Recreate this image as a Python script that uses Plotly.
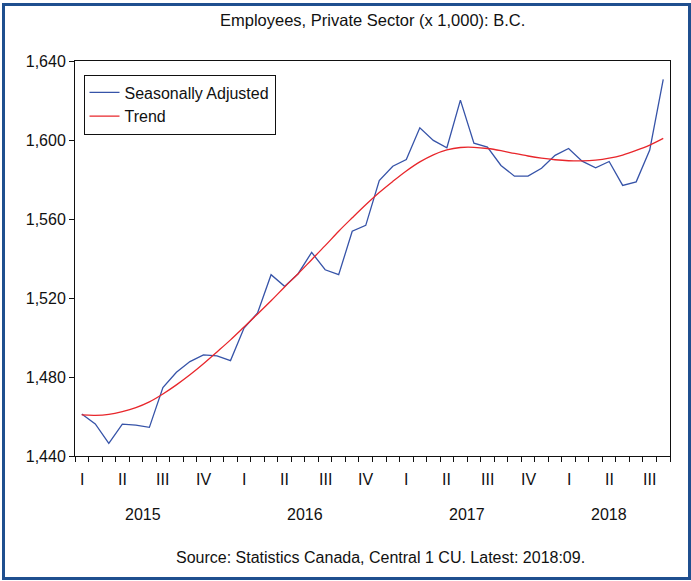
import plotly.graph_objects as go

# Monthly index: 0 = Jan 2015; data from Feb 2015 (1) to Sep 2018 (44)
months = list(range(1, 45))
seasonally_adjusted = [
    1461.3, 1456.2, 1446.4, 1456.1, 1455.6, 1454.5, 1474.7, 1482.4, 1487.8, 1491.2,
    1490.7, 1488.3, 1504.8, 1512.4, 1531.8, 1525.9, 1532.3, 1543.1, 1534.3, 1531.8,
    1553.8, 1556.8, 1579.5, 1586.7, 1590.1, 1606.2, 1599.8, 1596.1, 1620.2, 1598.4,
    1596.4, 1587.1, 1581.7, 1581.7, 1585.7, 1592.2, 1595.7, 1589.3, 1585.9, 1589.1,
    1577.0, 1578.8, 1594.9, 1630.7,
]
trend = [
    1460.8, 1460.6, 1461.1, 1462.5, 1464.5, 1467.4, 1471.4, 1476.0, 1481.1, 1486.7,
    1492.7, 1498.8, 1505.3, 1511.9, 1518.6, 1525.6, 1532.3, 1539.4, 1546.5, 1553.8,
    1560.6, 1567.2, 1573.4, 1579.0, 1584.3, 1588.9, 1592.5, 1595.0, 1596.2, 1596.3,
    1595.7, 1594.6, 1593.2, 1591.9, 1590.8, 1590.0, 1589.5, 1589.4, 1589.8, 1590.8,
    1592.4, 1594.7, 1597.4, 1600.8,
]
y_ticks = [1440, 1480, 1520, 1560, 1600, 1640]
quarter_labels = ["I", "II", "III", "IV"] * 3 + ["I", "II", "III"]
quarter_centers = [1 + 3 * i for i in range(len(quarter_labels))]
year_labels = ["2015", "2016", "2017", "2018"]
year_centers = [5.5, 17.5, 29.5, 40.0]

title_text = "Employees, Private Sector (x 1,000): B.C."
source_text = "Source: Statistics Canada, Central 1 CU. Latest: 2018:09."

W, H = 691, 581
L, R, T, B = 75, 21, 61, 125
pw, ph = W - L - R, H - T - B


def px_x(x):
    return (x - L) / pw


def px_y(y):
    return (H - B - y) / ph


FONT = "Liberation Sans, Arial, sans-serif"

fig = go.Figure()
fig.add_trace(go.Scatter(x=months, y=seasonally_adjusted, mode="lines",
                         name="Seasonally Adjusted",
                         line=dict(color="#3653A8", width=1.3)))
fig.add_trace(go.Scatter(x=months, y=trend, mode="lines", name="Trend",
                         line=dict(color="#E8262B", width=1.3, shape="spline")))

major_ticks = [2.5 + 3 * i for i in range(15)]
minor_ticks = [0.5 + i for i in range(45)]

fig.update_xaxes(range=[0.5, 44.5], showgrid=False, zeroline=False,
                 showline=True, linecolor="#111", linewidth=1, mirror=True,
                 tickmode="array", tickvals=major_ticks, ticktext=[""] * len(major_ticks),
                 ticks="outside", ticklen=9, tickcolor="#111", tickwidth=1,
                 minor=dict(tickmode="array", tickvals=minor_ticks, ticks="outside",
                            ticklen=5, tickcolor="#111", tickwidth=1, showgrid=False))
fig.update_yaxes(range=[1440, 1640], showgrid=False, zeroline=False,
                 showline=True, linecolor="#111", linewidth=1, mirror=True,
                 tickmode="array", tickvals=y_ticks, tickformat=",",
                 ticks="outside", ticklen=5, tickcolor="#111", tickwidth=1,
                 tickfont=dict(family=FONT, size=16, color="#111"))

annotations = []
for lab, c in zip(quarter_labels, quarter_centers):
    annotations.append(dict(x=c, y=px_y(479), xref="x", yref="paper", text=lab,
                            showarrow=False, xanchor="center", yanchor="middle",
                            font=dict(family=FONT, size=16, color="#111")))
for lab, c in zip(year_labels, year_centers):
    annotations.append(dict(x=c, y=px_y(514), xref="x", yref="paper", text=lab,
                            showarrow=False, xanchor="center", yanchor="middle",
                            font=dict(family=FONT, size=16, color="#111")))
annotations.append(dict(x=px_x(372), y=px_y(20), xref="paper", yref="paper",
                        text=title_text, showarrow=False, xanchor="center",
                        yanchor="middle", font=dict(family=FONT, size=16.5, color="#111")))
annotations.append(dict(x=px_x(380), y=px_y(557), xref="paper", yref="paper",
                        text=source_text, showarrow=False, xanchor="center",
                        yanchor="middle", font=dict(family=FONT, size=16, color="#111")))

shapes = [dict(type="rect", xref="paper", yref="paper",
               x0=px_x(3.5), x1=px_x(689.5), y0=px_y(578.5), y1=px_y(4.5),
               line=dict(color="#1F4F8F", width=3), fillcolor="rgba(0,0,0,0)", layer="below")]

fig.update_layout(
    width=W, height=H,
    margin=dict(l=L, r=R, t=T, b=B, pad=0),
    paper_bgcolor="white", plot_bgcolor="white",
    showlegend=True,
    legend=dict(x=px_x(83.5), y=px_y(74.5), xanchor="left", yanchor="top",
                bgcolor="white", bordercolor="#111", borderwidth=1,
                font=dict(family=FONT, size=16, color="#111"),
                itemwidth=30, tracegroupgap=0),
    annotations=annotations,
    shapes=shapes,
)

fig.write_html("out.html", config={"displayModeBar": False},
               post_script="document.body.style.margin='0';document.body.style.overflow='hidden';")
